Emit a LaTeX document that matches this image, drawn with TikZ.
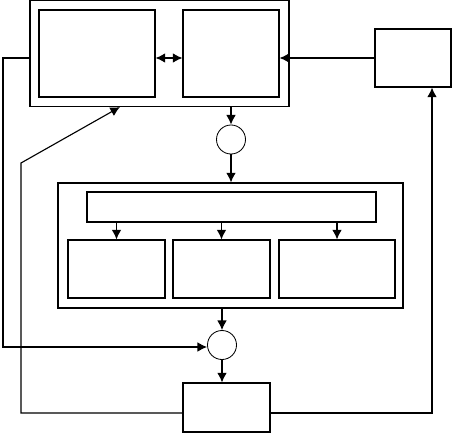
\documentclass[tikz,border=0pt]{standalone}
\usetikzlibrary{arrows.meta}
\tikzset{
  boks/.style={draw,rectangle,inner sep=0pt,line width=0.8pt},
  sirkel/.style={draw,circle,inner sep=0pt,minimum size=0.725cm,line width=0.6pt}
}
\begin{document}
\begin{tikzpicture}[>={Latex[length=2.4mm,width=2.4mm]},x=0.025cm,y=-0.025cm,line width=0.8pt]
  \useasboundingbox (0,0) rectangle (452,433);
  % Topp
  \node[boks,minimum width=6.475cm,minimum height=2.65cm] (ramme) at (159.5,53.5) {};
  \node[boks,minimum width=2.9cm,minimum height=2.175cm] (venstre) at (97,53.5) {};
  \node[boks,minimum width=2.4cm,minimum height=2.175cm] (hoyre) at (231,53.5) {};
  \node[boks,minimum width=1.9cm,minimum height=1.45cm] (ytre) at (413,58) {};
  \node[sirkel] (s1) at (231,139.5) {};
  % Midt
  \node[boks,minimum width=8.625cm,minimum height=3.125cm] (midt) at (230.5,245.5) {};
  \node[boks,minimum width=7.225cm,minimum height=0.75cm] (bar) at (231.5,207) {};
  \node[boks,minimum width=2.425cm,minimum height=1.45cm] (a) at (116.5,269) {};
  \node[boks,minimum width=2.425cm,minimum height=1.45cm] (b) at (221.5,269) {};
  \node[boks,minimum width=2.9cm,minimum height=1.45cm] (c) at (337,269) {};
  % Bunn
  \node[sirkel] (s2) at (222,345) {};
  \node[boks,minimum width=2.175cm,minimum height=1.225cm] (bunn) at (226.5,407.5) {};
  % Piler
  \draw[<->] (venstre.east |- ytre.west) -- (hoyre.west |- ytre.west);
  \draw[->] (ytre.west) -- (hoyre.east |- ytre.west);
  \draw[->] (ramme.south -| s1) -- (s1.north);
  \draw[->] (s1.south) -- (s1.south |- midt.north);
  \foreach \n in {a,b,c}
    \draw[->] (bar.south -| \n.north) -- (\n.north);
  \draw[->] (midt.south -| s2) -- (s2.north);
  \draw[->] (s2.south) -- (s2.south |- bunn.north);
  % Tilbakekobling
  \coordinate (l1) at (3,58);
  \coordinate (l2) at (3,347);
  \draw[->] (ramme.west |- l1) -- (l1) -- (l2) -- (l2 -| s2.west);
  \coordinate (b1) at (21,413);
  \coordinate (b2) at (21,163);
  \coordinate (b3) at (120,107);
  \draw[->] (bunn.west |- b1) -- (b1) -- (b2) -- (b3);
  \coordinate (r1) at (432,413);
  \draw[->] (bunn.east |- r1) -- (r1) -- (r1 |- ytre.south);
\end{tikzpicture}
\end{document}
